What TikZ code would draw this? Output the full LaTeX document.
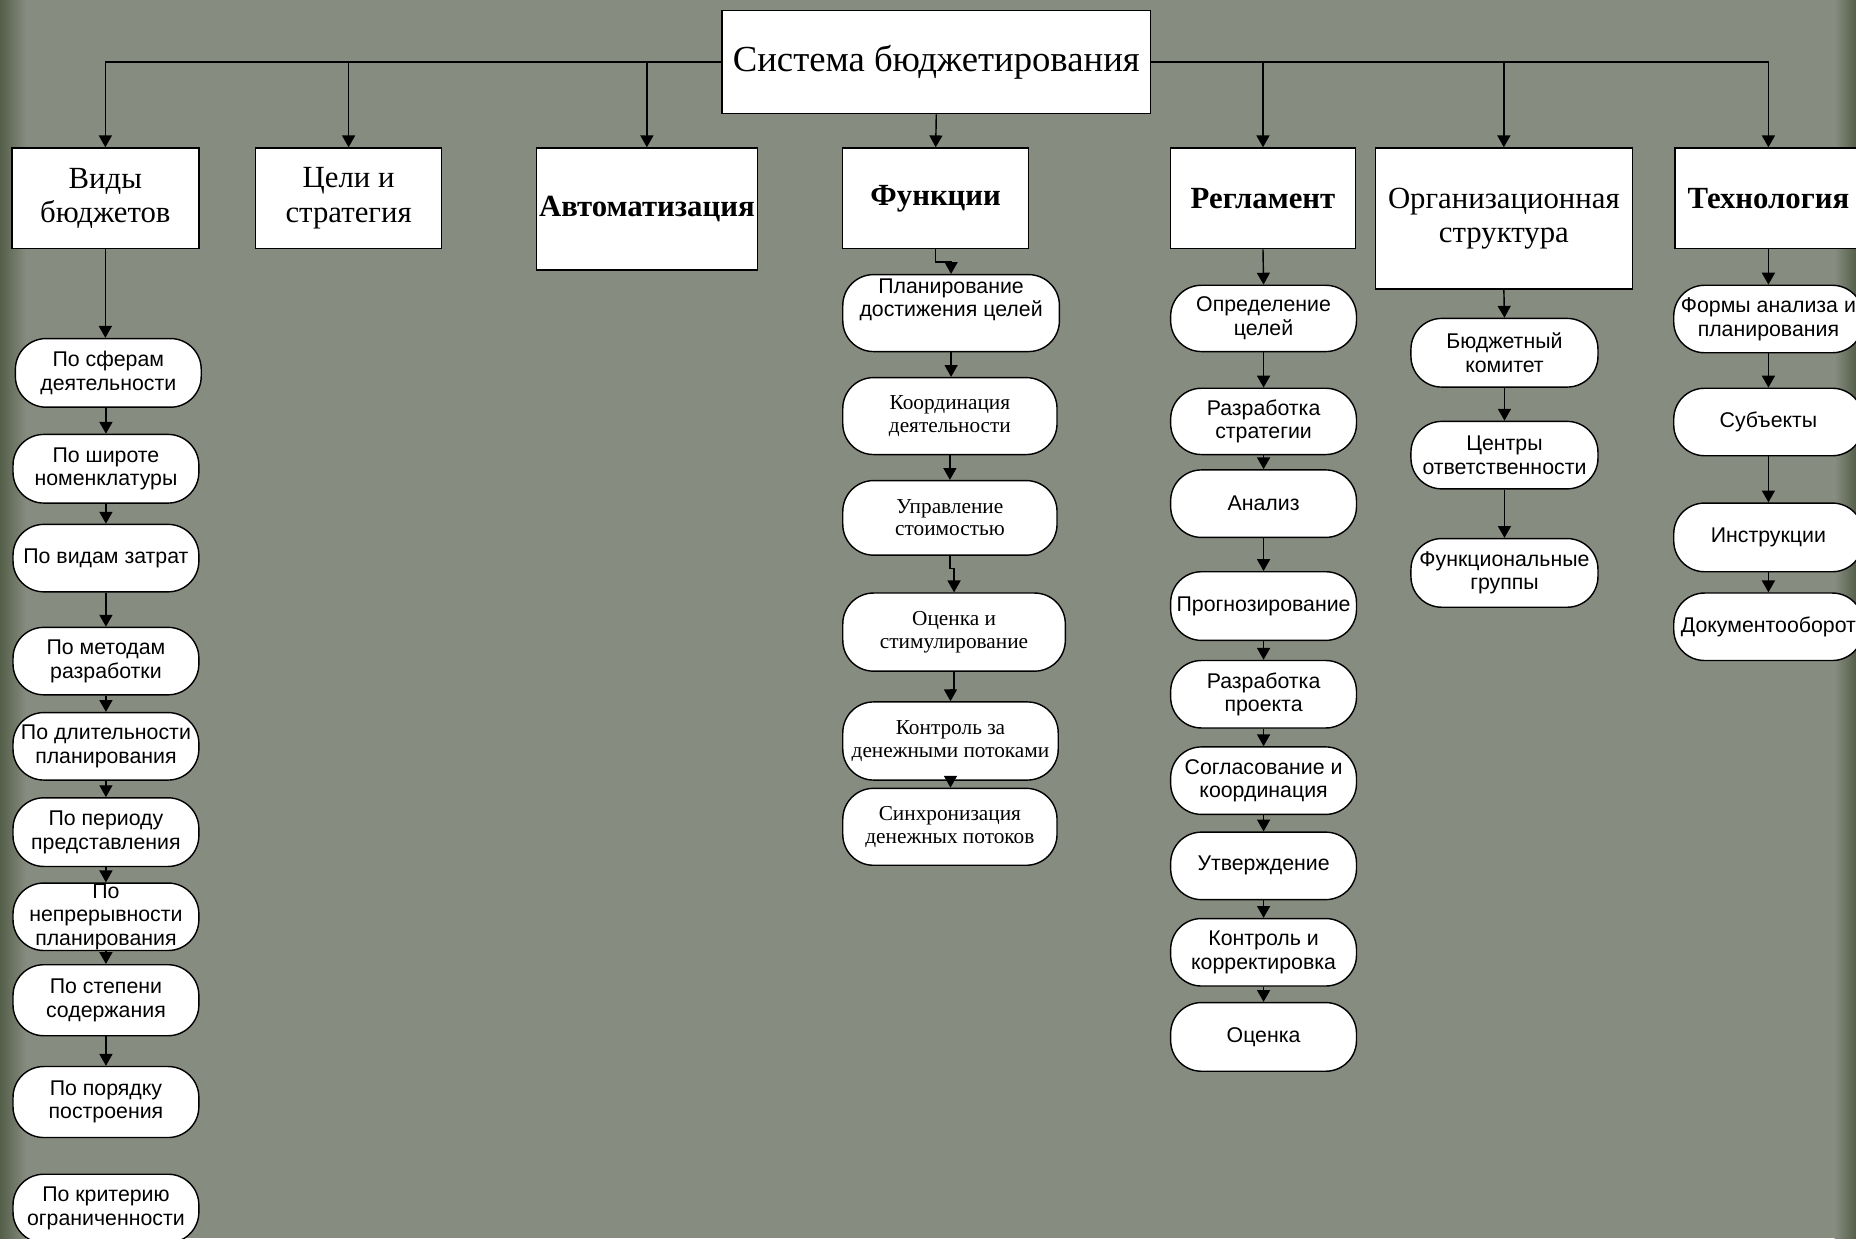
\documentclass[tikz,border=0pt]{standalone}
\usepackage{fontspec}
\setmainfont{Liberation Serif}
\newfontfamily\ovfont{Liberation Sans}
\usetikzlibrary{arrows.meta}
\definecolor{bg}{RGB}{135,140,128}
\definecolor{edgedark}{RGB}{84,94,72}
\tikzset{
  base/.style={draw=black, fill=white, line width=0.6pt, inner sep=1pt, align=center},
  hbox/.style={base, font=\fontsize{13}{14.5}\selectfont},
  hboxb/.style={base, font=\fontsize{13}{14.5}\selectfont\bfseries},
  sysbox/.style={base, font=\fontsize{15.5}{17}\selectfont},
  ov/.style={base, rounded corners=13pt, font=\ovfont\fontsize{9}{10}\selectfont},
  ovs/.style={base, rounded corners=13pt, font=\fontsize{9}{9.5}\selectfont},
  arr/.style={-{Triangle[width=5.5pt,length=5pt]}, line width=0.6pt},
}
\begin{document}
\begin{tikzpicture}[x=0.5pt, y=-0.5pt]
\useasboundingbox (0,0) rectangle (1568,1046);
\clip (0,0) rectangle (1568,1046);
% background
\fill[bg] (0,0) rectangle (1568,1046);
\shade[left color=edgedark, right color=bg] (0,0) rectangle (22,1046);
\shade[left color=bg, right color=edgedark] (1550,0) rectangle (1568,1046);

% top
\node[sysbox, minimum width=181pt, minimum height=43.5pt] (sys) at (791,52.5) {Система бюджетирования};

% level 1
\node[hbox,  minimum width=79pt,   minimum height=42.5pt] (vidy) at (89,167.5)   {Виды\\бюджетов};
\node[hbox,  minimum width=78.5pt, minimum height=42.5pt] (celi) at (294.5,167.5) {Цели и\\стратегия};
\node[hboxb, minimum width=93.5pt, minimum height=51.5pt] (avto) at (546.5,176.5) {Автоматизация};
\node[hboxb, minimum width=78.5pt, minimum height=42.5pt] (fun)  at (790.5,167.5) {Функции};
\node[hboxb, minimum width=78pt,   minimum height=42.5pt] (regl) at (1067,167.5)  {Регламент};
\node[hbox,  minimum width=108.5pt,minimum height=59.5pt] (org)  at (1270.5,184.5) {Организационная\\структура};
\node[hboxb, minimum width=79pt,   minimum height=42.5pt] (tech) at (1494,167.5)  {Технология};

% Виды бюджетов column
\node[ov, minimum width=78.5pt, minimum height=29pt] (v1) at (91.5,315) {По сферам\\деятельности};
\node[ov, minimum width=78.5pt, minimum height=29pt] (v2) at (89.5,396) {По широте\\номенклатуры};
\node[ov, minimum width=78.5pt, minimum height=28.5pt] (v3) at (89.5,471.5) {По видам затрат};
\node[ov, minimum width=78.5pt, minimum height=28.5pt] (v4) at (89.5,558.5) {По методам\\разработки};
\node[ov, minimum width=78.5pt, minimum height=28.5pt] (v5) at (89.5,630.5) {По длительности\\планирования};
\node[ov, minimum width=78.5pt, minimum height=29pt] (v6) at (89.5,703) {По периоду\\представления};
\node[ov, minimum width=78.5pt, minimum height=28.5pt, inner sep=0pt] (v7) at (89.5,774.5) {По\\непрерывности\\планирования};
\node[ov, minimum width=78.5pt, minimum height=30pt] (v8) at (89.5,845) {По степени\\содержания};
\node[ov, minimum width=78.5pt, minimum height=30pt] (v9) at (89.5,931) {По порядку\\построения};
\node[ov, minimum width=78.5pt, minimum height=29pt] (v10) at (89.5,1021) {По критерию\\ограниченности};

% Функции column
\node[ov,  minimum width=91.5pt, minimum height=32.5pt] (f1) at (803.5,264.5) {Планирование\\достижения целей\\\strut};
\node[ovs, minimum width=90.5pt, minimum height=32.5pt] (f2) at (802.5,351.5) {Координация\\деятельности};
\node[ovs, minimum width=90.5pt, minimum height=31.5pt] (f3) at (802.5,437.5) {Управление\\стоимостью};
\node[ovs, minimum width=94pt,   minimum height=33pt]   (f4) at (806,534)     {Оценка и\\стимулирование};
\node[ovs, minimum width=91pt,   minimum height=33pt]   (f5) at (803,626)     {Контроль за\\денежными потоками};
\node[ovs, minimum width=90.5pt, minimum height=32.5pt] (f6) at (802.5,698.5) {Синхронизация\\денежных потоков};

% Регламент column
\node[ov, minimum width=78.5pt, minimum height=28pt]   (r1) at (1067.5,269)   {Определение\\целей};
\node[ov, minimum width=78.5pt, minimum height=28pt]   (r2) at (1067.5,356)   {Разработка\\стратегии};
\node[ov, minimum width=78.5pt, minimum height=28.5pt] (r3) at (1067.5,425.5) {Анализ};
\node[ov, minimum width=78.5pt, minimum height=29pt]   (r4) at (1067.5,512)   {Прогнозирование};
\node[ov, minimum width=78.5pt, minimum height=28.5pt] (r5) at (1067.5,586.5) {Разработка\\проекта};
\node[ov, minimum width=78.5pt, minimum height=28.5pt] (r6) at (1067.5,659.5) {Согласование и\\координация};
\node[ov, minimum width=78.5pt, minimum height=28.5pt] (r7) at (1067.5,731.5) {Утверждение};
\node[ov, minimum width=78.5pt, minimum height=28.5pt] (r8) at (1067.5,804.5) {Контроль и\\корректировка};
\node[ov, minimum width=78.5pt, minimum height=29pt]   (r9) at (1067.5,876)   {Оценка};

% Организационная структура column
\node[ov, minimum width=79pt, minimum height=29pt]   (o1) at (1271,298)   {Бюджетный\\комитет};
\node[ov, minimum width=79pt, minimum height=28.5pt] (o2) at (1271,384.5) {Центры\\ответственности};
\node[ov, minimum width=79pt, minimum height=29pt]   (o3) at (1271,484)   {Функциональные\\группы};

% Технология column
\node[ov, minimum width=80pt, minimum height=28.5pt] (t1) at (1494,269.5) {Формы анализа и\\планирования};
\node[ov, minimum width=80pt, minimum height=28.5pt] (t2) at (1494,356.5) {Субъекты};
\node[ov, minimum width=80pt, minimum height=29pt]   (t3) at (1494,454)   {Инструкции};
\node[ov, minimum width=80pt, minimum height=28.5pt] (t4) at (1494,529.5) {Документооборот};

% connectors from the top
\draw[arr] (sys.west) -| (vidy.north);
\draw[arr] (sys.west) -| (celi.north);
\draw[arr] (sys.west) -| (avto.north);
\draw[arr] (sys.south) -- (fun.north);
\draw[arr] (sys.east) -| (regl.north);
\draw[arr] (sys.east) -| (org.north);
\draw[arr] (sys.east) -| (tech.north);

% Виды chain
\draw[arr] (vidy.south) -- (vidy.south |- v1.north);
\draw[arr] (v1.south -| v2.north) -- (v2.north);
\draw[arr] (v2.south) -- (v3.north);
\draw[arr] (v3.south) -- (v4.north);
\draw[arr] (v4.south) -- (v5.north);
\draw[arr] (v5.south) -- (v6.north);
\draw[arr] (v6.south) -- (v7.north);
\draw[arr] (v7.south) -- (v8.north);
\draw[arr] (v8.south) -- (v9.north);

% Функции chain
\draw[arr] (fun.south) |- ([yshift=5pt]f1.north) -- (f1.north);
\draw[arr] (f1.south) -- (f1.south |- f2.north);
\draw[arr] (f2.south) -- (f2.south |- f3.north);
\draw[arr] (f3.south) |- ([yshift=10pt]f4.north) -- (f4.north);
\draw[arr] (f4.south) |- ([yshift=5pt]f5.north) -- (f5.north);
\draw[arr] (f5.south) -- (f5.south |- f6.north);

% Регламент chain
\draw[arr] (regl.south) -- (r1.north);
\draw[arr] (r1.south) -- (r2.north);
\draw[arr] (r2.south) -- (r3.north);
\draw[arr] (r3.south) -- (r4.north);
\draw[arr] (r4.south) -- (r5.north);
\draw[arr] (r5.south) -- (r6.north);
\draw[arr] (r6.south) -- (r7.north);
\draw[arr] (r7.south) -- (r8.north);
\draw[arr] (r8.south) -- (r9.north);

% Организационная структура chain
\draw[arr] (org.south) -- (o1.north);
\draw[arr] (o1.south) -- (o2.north);
\draw[arr] (o2.south) -- (o3.north);

% Технология chain
\draw[arr] (tech.south) -- (t1.north);
\draw[arr] (t1.south) -- (t2.north);
\draw[arr] (t2.south) -- (t3.north);
\draw[arr] (t3.south) -- (t4.north);
\end{tikzpicture}
\end{document}
